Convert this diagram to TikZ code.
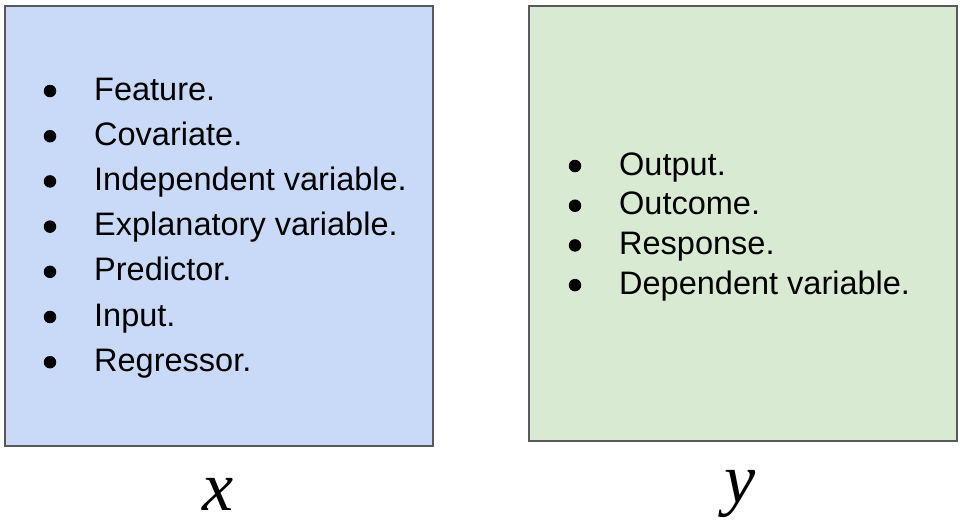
\documentclass[tikz,border=0pt]{standalone}
\usepackage{fontspec}
\setmainfont{Liberation Sans}
\newfontfamily\labelfont{Liberation Serif}
\definecolor{boxblue}{HTML}{C9DAF8}
\definecolor{boxgreen}{HTML}{D9EAD3}
\definecolor{boxline}{HTML}{595959}
\tikzset{
  panel/.style={draw=boxline, line width=2pt},
  item/.style={anchor=base west, inner sep=0pt, font=\fontsize{32.5}{32.5}\selectfont},
  dot/.style={circle, fill=black, inner sep=0pt, minimum size=12.5pt},
  varlabel/.style={inner sep=0pt, font=\labelfont\itshape\fontsize{70}{70}\selectfont},
}
\begin{document}
\begin{tikzpicture}[x=1pt,y=-1pt]
\useasboundingbox (0,0) rectangle (965,528);
\path[panel, fill=boxblue] (5,6) rectangle (433,446);
\path[panel, fill=boxgreen] (529,6) rectangle (957,441);
\foreach \t [count=\i from 0] in {Feature., Covariate., Independent variable., Explanatory variable., Predictor., Input., Regressor.}{
  \node[dot] (lb\i) at (50,{91+45.2*\i}) {};
  \node[item] (lt\i) at (94,{100+45.2*\i}) {\t};
}
\foreach \t [count=\i from 0] in {Output., Outcome., Response., Dependent variable.}{
  \node[dot] (rb\i) at (575,{166+39.7*\i}) {};
  \node[item] (rt\i) at (619,{175+39.7*\i}) {\t};
}
\node[varlabel] (xl) at (218,494) {x};
\node[varlabel] (yl) at (740,494) {y};
\end{tikzpicture}
\end{document}
